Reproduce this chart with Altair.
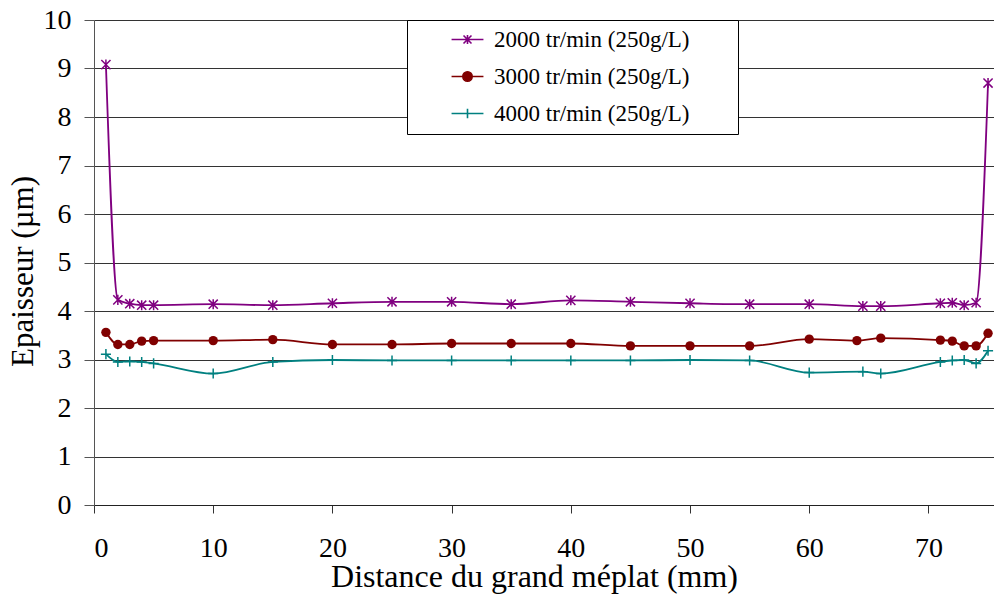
import altair as alt
import pandas as pd

series = ["2000 tr/min (250g/L)", "3000 tr/min (250g/L)", "4000 tr/min (250g/L)"]
colors = ["#800080", "#800000", "#008080"]

x_2000 = [1, 2, 3, 4, 5, 10, 15, 20, 25, 30, 35, 40, 45, 50, 55, 60, 64.5, 66, 71, 72, 73, 74, 75]
y_2000 = [9.08, 4.23, 4.15, 4.12, 4.12, 4.14, 4.12, 4.16, 4.19, 4.19, 4.14, 4.22, 4.19, 4.16, 4.14, 4.14, 4.10, 4.10, 4.16, 4.17, 4.12, 4.17, 8.70]

x_3000 = [1, 2, 3, 4, 5, 10, 15, 20, 25, 30, 35, 40, 45, 50, 55, 60, 64, 66, 71, 72, 73, 74, 75]
y_3000 = [3.56, 3.31, 3.31, 3.38, 3.39, 3.39, 3.41, 3.31, 3.31, 3.33, 3.33, 3.33, 3.28, 3.28, 3.28, 3.42, 3.39, 3.44, 3.40, 3.38, 3.28, 3.28, 3.54]

x_4000 = [1, 2, 3, 4, 5, 10, 15, 20, 25, 30, 35, 40, 45, 50, 55, 60, 64.5, 66, 71, 72, 73, 74, 75]
y_4000 = [3.11, 2.95, 2.96, 2.95, 2.92, 2.71, 2.95, 2.99, 2.98, 2.98, 2.98, 2.98, 2.98, 2.99, 2.98, 2.73, 2.75, 2.71, 2.95, 2.98, 2.99, 2.92, 3.18]

x_ticks = [0, 10, 20, 30, 40, 50, 60, 70]
y_ticks = [0, 1, 2, 3, 4, 5, 6, 7, 8, 9, 10]

rows = []
for name, xs, ys in zip(series, [x_2000, x_3000, x_4000], [y_2000, y_3000, y_4000]):
    for xv, yv in zip(xs, ys):
        rows.append({"serie": name, "x": xv, "y": yv})
df = pd.DataFrame(rows)

FONT = "Liberation Serif, Times New Roman, serif"

marker_shapes = [
    "M-1,-1L1,1M-1,1L1,-1M0,-1.1V1.1",
    "circle",
    "M-1.1,0H1.1M0,-1.1V1.1",
]
legend_shapes = [
    "M-3.4,0H3.4M-0.85,-0.85L0.85,0.85M-0.85,0.85L0.85,-0.85M0,-0.95V0.95",
    "M-3.4,0H3.4M1,0A1,1,0,1,1,-1,0A1,1,0,1,1,1,0Z",
    "M-3.4,0H3.4M0,-1V1",
]

x_enc = alt.X(
    "x:Q",
    scale=alt.Scale(domain=[0, 75.5], nice=False, zero=False),
    axis=alt.Axis(
        values=x_ticks, title="Distance du grand méplat (mm)", grid=False,
        tickSize=8, labelPadding=21, labelFontSize=28, titleFontSize=32,
        titleFontWeight="normal", titleX=440, titleY=81, titleBaseline="alphabetic",
        labelFont=FONT, titleFont=FONT, domainColor="#222", tickColor="#333",
        labelColor="black", titleColor="black", format="d",
    ),
)
y_enc = alt.Y(
    "y:Q",
    scale=alt.Scale(domain=[0, 10], nice=False),
    axis=alt.Axis(
        values=y_ticks, title="Epaisseur (µm)", grid=True, gridColor="#333",
        gridWidth=1, tickSize=10, labelPadding=13, labelFontSize=28,
        titleFontSize=31, titleFontWeight="normal", titleAngle=270,
        titleX=-62, titleY=251, titleBaseline="alphabetic", titleAlign="center",
        labelFont=FONT, titleFont=FONT, domainColor="#555", tickColor="#555",
        labelColor="black", titleColor="black", format="d",
    ),
)

base = alt.Chart(df)

line_layers = []
point_layers = []
for i, (name, col, shp) in enumerate(zip(series, colors, marker_shapes)):
    sub = base.transform_filter(alt.datum.serie == name)
    ln = sub.mark_line(interpolate="monotone", strokeWidth=1.8, color=col)
    if i == 0:
        ln = ln.encode(x=x_enc, y=y_enc)
    else:
        ln = ln.encode(x="x:Q", y="y:Q")
    line_layers.append(ln)
    filled = shp == "circle"
    pt = sub.mark_point(
        shape=shp, size=88 if filled else 84, filled=filled, opacity=1,
        color=col, strokeWidth=1.5,
    ).encode(x="x:Q", y="y:Q")
    point_layers.append(pt)

LABEL_EXPR = "datum.label + '\u00a0\u00a0\u00a0\u00a0\u2800'"


def leg():
    return alt.Legend(title=None, labelExpr=LABEL_EXPR, orient="none",
                      legendX=313, legendY=0)


legend_layer = base.transform_filter(alt.datum.serie == "__none__").mark_point(
    filled=False, strokeWidth=1.6, opacity=1
).encode(
    shape=alt.Shape("serie:N", scale=alt.Scale(domain=series, range=legend_shapes), legend=leg()),
    stroke=alt.Stroke("serie:N", scale=alt.Scale(domain=series, range=colors), legend=leg()),
    fill=alt.Fill("serie:N", scale=alt.Scale(domain=series, range=colors), legend=leg()),
)

chart = alt.layer(*line_layers, *point_layers, legend_layer).properties(
    width=900, height=485,
    autosize=alt.AutoSizeParams(type="none"),
    padding={"left": 86, "top": 12, "right": 0, "bottom": 89},
    background="white",
).configure_view(stroke=None).configure_legend(
    padding=8, strokeColor="black", fillColor="white", rowPadding=13,
    symbolSize=88, symbolStrokeWidth=1.6, symbolOffset=41, labelOffset=15,
    labelFont=FONT, labelFontSize=23, labelColor="black", labelLimit=400,
    symbolOpacity=1,
)

chart.save("out.html", embed_options={"renderer": "svg", "actions": False})
